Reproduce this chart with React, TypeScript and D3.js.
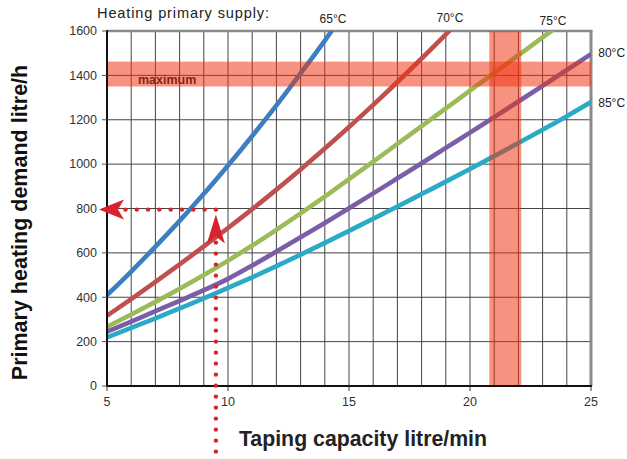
import React from "react";
import * as d3 from "d3";

const xTicks = [5, 10, 15, 20, 25];
const yTicks = [0, 200, 400, 600, 800, 1000, 1200, 1400, 1600];
const xGrid = d3.range(6, 25);
const yGrid = [200, 400, 600, 800, 1000, 1200, 1400];

const seriesLabels = ["65°C", "70°C", "75°C", "80°C", "85°C"];
const seriesColors = ["#3b7ec2", "#c0504d", "#9bbb59", "#7b5ea7", "#2aaac6"];

const x65 = [5, 6, 7, 8, 9, 10, 11, 12, 13, 14, 14.6];
const y65 = [410, 516, 628, 744, 866, 994, 1127, 1265, 1409, 1557, 1650];
const x70 = [5, 6, 7, 8, 9, 10, 11, 12, 13, 14, 15, 16, 17, 18, 19, 19.5];
const y70 = [317, 392, 469, 548, 629, 712, 797, 885, 976, 1070, 1167, 1267, 1370, 1476, 1585, 1641];
const x75 = [5, 6, 7, 8, 9, 10, 11, 12, 13, 14, 15, 16, 17, 18, 19, 20, 21, 22, 23, 23.6];
const y75 = [267, 322, 379, 438, 500, 565, 633, 704, 778, 854, 932, 1011, 1091, 1171, 1251, 1331, 1411, 1491, 1571, 1619];
const x80 = [5, 6, 7, 8, 9, 10, 11, 12, 13, 14, 15, 16, 17, 18, 19, 20, 21, 22, 23, 24, 25];
const y80 = [245, 290, 337, 384, 432, 483, 543, 606, 670, 735, 801, 868, 936, 1004, 1073, 1142, 1212, 1282, 1353, 1424, 1496];
const x85 = [5, 6, 7, 8, 9, 10, 11, 12, 13, 14, 15, 16, 17, 18, 19, 20, 21, 22, 23, 24, 25];
const y85 = [219, 262, 305, 350, 395, 442, 490, 540, 592, 645, 699, 754, 809, 865, 921, 978, 1036, 1095, 1155, 1216, 1280];

const seriesX = [x65, x70, x75, x80, x85];
const seriesY = [y65, y70, y75, y80, y85];
// label anchor (data units)
const labelX = [14.34, 19.17, 23.43, 25.3, 25.3];
const labelY = [1635, 1640, 1625, 1482, 1257];

const maxBand = [1350, 1462];
const capBand = [20.8, 22.12];
const exampleX = 9.5;
const exampleY = 795;

const W = 627;
const H = 459;
const L = 107, R = 591, T = 31, B = 386;

export default function App() {
  const xs = d3.scaleLinear().domain([5, 25]).range([L, R]);
  const ys = d3.scaleLinear().domain([0, 1600]).range([B, T]);
  const line = d3
    .line<[number, number]>()
    .x((d) => xs(d[0]))
    .y((d) => ys(d[1]))
    .curve(d3.curveMonotoneX);

  const font = "'Liberation Sans', Arial, sans-serif";
  const red = "#d8222c";
  const ex = xs(exampleX);
  const ey = ys(exampleY);
  const hDots = d3.range(ex, xs(5.7), -11.3);
  const vDots = d3.range(ey + 33, 456, 11);

  return (
    <svg
      width={W}
      height={H}
      style={{ position: "absolute", left: 0, top: 0, background: "#fff" }}
      fontFamily={font}
    >
      <defs>
        <clipPath id="plotclip">
          <rect x={L} y={T} width={R - L} height={B - T} />
        </clipPath>
      </defs>
      <rect x={0} y={0} width={W} height={H} fill="#fff" />
      {/* grid */}
      {xGrid.map((v) => (
        <line key={"gx" + v} x1={xs(v)} x2={xs(v)} y1={T} y2={B} stroke="#444" strokeWidth={1} />
      ))}
      {yGrid.map((v) => (
        <line key={"gy" + v} x1={L} x2={R} y1={ys(v)} y2={ys(v)} stroke="#444" strokeWidth={1} />
      ))}
      {/* frame top & right */}
      <line x1={L} x2={R + 1.5} y1={T} y2={T} stroke="#8a8a8a" strokeWidth={2.5} />
      <line x1={R} x2={R} y1={T} y2={B} stroke="#8a8a8a" strokeWidth={3} />
      {/* curves */}
      <g clipPath="url(#plotclip)">
        {seriesX.map((xa, i) => (
          <path
            key={"s" + i}
            d={line(xa.map((v, j) => [v, seriesY[i][j]] as [number, number])) || ""}
            fill="none"
            stroke={seriesColors[i]}
            strokeWidth={4.6}
          />
        ))}
      </g>
      {/* maximum label */}
      <text x={138} y={ys(1360) - 0.5} fontSize={12.5} fontWeight="bold" fill="#111">
        maximum
      </text>
      {/* bands */}
      <rect
        x={L}
        y={ys(maxBand[1])}
        width={R - L}
        height={ys(maxBand[0]) - ys(maxBand[1])}
        fill="rgb(240,50,15)"
        opacity={0.53}
      />
      <rect
        x={xs(capBand[0])}
        y={T}
        width={xs(capBand[1]) - xs(capBand[0])}
        height={B - T}
        fill="rgb(240,50,15)"
        opacity={0.53}
      />
      {/* axes */}
      <line x1={L} x2={L} y1={T - 1} y2={B + 1} stroke="#111" strokeWidth={2} />
      <line x1={L - 1} x2={R + 1} y1={B} y2={B} stroke="#111" strokeWidth={2} />
      {yTicks.map((v) => (
        <g key={"yt" + v}>
          <line x1={L - 5} x2={L} y1={ys(v)} y2={ys(v)} stroke="#555" strokeWidth={1} />
          <text x={L - 10} y={ys(v) + 4.3} fontSize={12.5} textAnchor="end" fill="#333">
            {v}
          </text>
        </g>
      ))}
      {xTicks.map((v) => (
        <g key={"xt" + v}>
          <line x1={xs(v)} x2={xs(v)} y1={B} y2={B + 5} stroke="#333" strokeWidth={1} />
          <text x={xs(v)} y={B + 20} fontSize={12.5} textAnchor="middle" fill="#333">
            {v}
          </text>
        </g>
      ))}
      {/* series labels */}
      {seriesLabels.map((s, i) => (
        <text
          key={"l" + i}
          x={xs(labelX[i])}
          y={ys(labelY[i])}
          fontSize={12}
          textAnchor={i < 3 ? "middle" : "start"}
          fill="#222"
        >
          {s}
        </text>
      ))}
      {/* title */}
      <text x={97} y={18} fontSize={14.6} letterSpacing={0.85} fill="#222">
        Heating primary supply:
      </text>
      {/* axis titles */}
      <text
        transform={`translate(27,222.5) rotate(-90)`}
        textAnchor="middle"
        fontSize={21.5}
        fontWeight="bold"
        fill="#111"
      >
        Primary heating demand litre/h
      </text>
      <text x={363} y={446} textAnchor="middle" fontSize={21.3} fontWeight="bold" fill="#222">
        Taping capacity litre/min
      </text>
      {/* example dotted path */}
      {hDots.map((px, i) => (
        <circle key={"hd" + i} cx={px} cy={ey} r={2.2} fill={red} />
      ))}
      {vDots.map((py, i) => (
        <circle key={"vd" + i} cx={ex} cy={py} r={2.2} fill={red} />
      ))}
      <path
        d={`M${L - 8},${ey} L${L + 17},${ey - 10} L${L + 11},${ey} L${L + 17},${ey + 10} Z`}
        fill={red}
      />
      <path
        d={`M${ex},${ey + 5} L${ex + 9},${ey + 34} L${ex},${ey + 27} L${ex - 9},${ey + 34} Z`}
        fill={red}
      />
    </svg>
  );
}
